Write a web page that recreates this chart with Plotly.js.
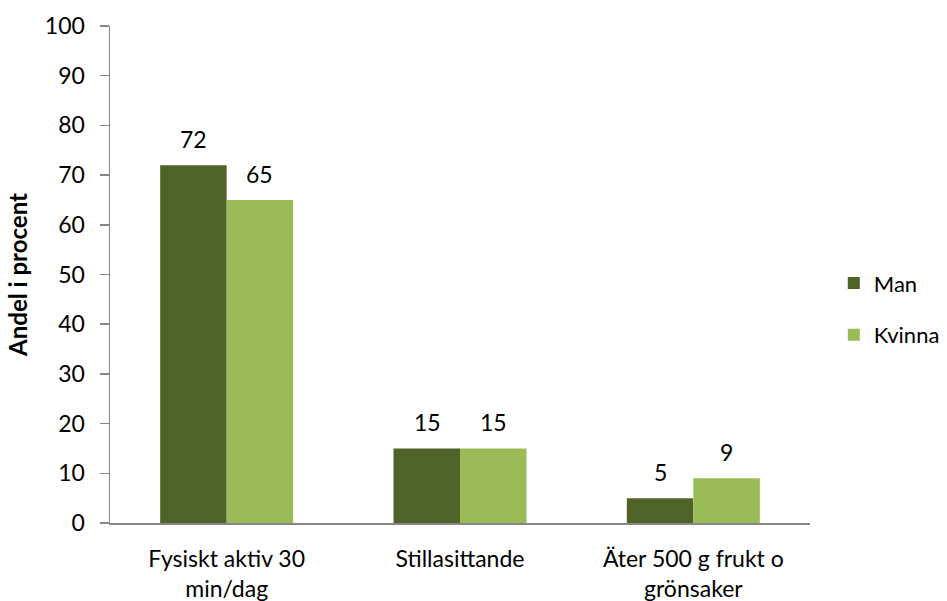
<!DOCTYPE html>
<html>
<head>
<meta charset="utf-8">
<script src="https://cdn.plot.ly/plotly-3.0.1.min.js"></script>
<style>
  html, body { margin: 0; padding: 0; background: #ffffff; }
  #chart { width: 947px; height: 601px; }
</style>
</head>
<body>
<div id="chart"></div>
<script>
var categories = ['Fysiskt aktiv 30<br>min/dag', 'Stillasittande', 'Äter 500 g frukt o<br>grönsaker'];
var man = [72, 15, 5];
var kvinna = [65, 15, 9];
var seriesNames = ['Man', 'Kvinna'];
var yTicks = [0, 10, 20, 30, 40, 50, 60, 70, 80, 90, 100];

var font = 'Lato, "Open Sans", sans-serif';
var axisColor = '#868686';
var fs = 23;

var trace1 = {
  x: categories,
  y: man,
  type: 'bar',
  name: seriesNames[0],
  legendgroup: 'a',
  marker: { color: '#4F6228' },
  hoverinfo: 'x+y'
};
var trace2 = {
  x: categories,
  y: kvinna,
  type: 'bar',
  name: seriesNames[1],
  legendgroup: 'b',
  marker: { color: '#9BBB59' },
  hoverinfo: 'x+y'
};

// data labels above each bar
var annotations = [];
var groups = [man, kvinna];
for (var g = 0; g < groups.length; g++) {
  for (var i = 0; i < categories.length; i++) {
    annotations.push({
      x: categories[i],
      y: groups[g][i],
      xref: 'x',
      yref: 'y',
      text: String(groups[g][i]),
      showarrow: false,
      xshift: g === 0 ? -33 : 33,
      yshift: 10,
      yanchor: 'bottom',
      font: { family: font, size: fs, color: '#000000' }
    });
  }
}

var layout = {
  width: 947,
  height: 601,
  margin: { l: 110, r: 137, t: 26, b: 78, autoexpand: false },
  paper_bgcolor: '#ffffff',
  plot_bgcolor: '#ffffff',
  font: { family: font, size: fs, color: '#000000' },
  barmode: 'group',
  bargap: 0.43,
  bargroupgap: 0,
  showlegend: true,
  legend: {
    x: 1.034,
    xanchor: 'left',
    y: 0.43,
    yanchor: 'middle',
    traceorder: 'grouped',
    tracegroupgap: 20,
    font: { family: font, size: 22, color: '#000000' },
    bgcolor: 'rgba(0,0,0,0)'
  },
  xaxis: {
    type: 'category',
    showline: true,
    linecolor: axisColor,
    linewidth: 1.5,
    ticks: '',
    showgrid: false,
    zeroline: false,
    ticklabelstandoff: 15,
    tickfont: { family: font, size: fs, color: '#000000' },
    automargin: false
  },
  yaxis: {
    range: [0, 100],
    tickvals: yTicks,
    ticktext: yTicks.map(String),
    showline: true,
    linecolor: axisColor,
    linewidth: 1.5,
    ticks: 'outside',
    ticklen: 9,
    tickwidth: 1.5,
    tickcolor: axisColor,
    showgrid: false,
    zeroline: false,
    ticklabelstandoff: 10,
    tickfont: { family: font, size: fs, color: '#000000' },
    title: {
      text: '<b>Andel i procent</b>',
      font: { family: font, size: 24, color: '#000000' },
      standoff: 10
    },
    automargin: false
  },
  annotations: annotations
};

Plotly.newPlot('chart', [trace1, trace2], layout, { displayModeBar: false, staticPlot: true });
</script>
</body>
</html>
